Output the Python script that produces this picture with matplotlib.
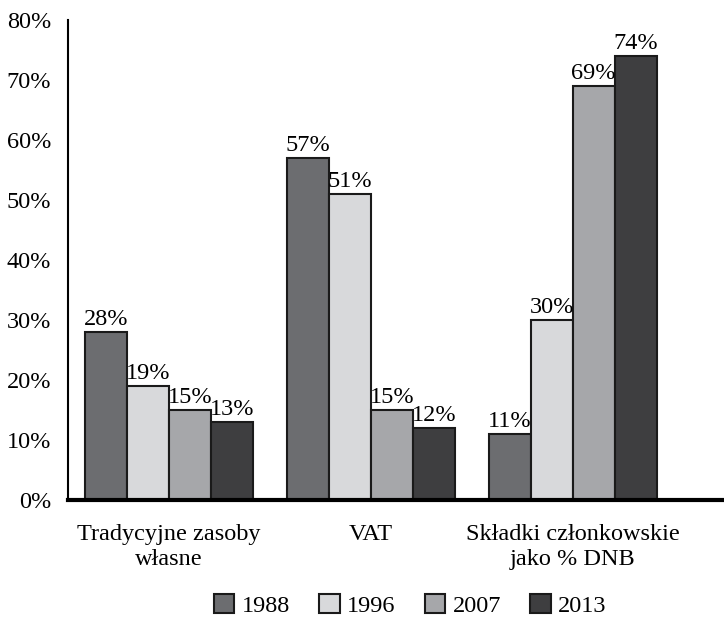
import matplotlib.pyplot as plt
import numpy as np

plt.rcParams['font.family'] = ['Liberation Serif', 'DejaVu Serif']

categories = ["Tradycyjne zasoby\nwłasne", "VAT", "Składki członkowskie\njako % DNB"]
years = ["1988", "1996", "2007", "2013"]
values = {
    "1988": [28, 57, 11],
    "1996": [19, 51, 30],
    "2007": [15, 15, 69],
    "2013": [13, 12, 74],
}
colors = ["#6c6d70", "#d8d9db", "#a6a7aa", "#3e3e40"]

fig = plt.figure(figsize=(7.24, 6.18), dpi=100)
ax = fig.add_axes([68/724, 1-500/618, 654/724, 480/618])

x = np.arange(len(categories))
w = 0.208
for i, yr in enumerate(years):
	pos = x + (i - 1.5) * w
	bars = ax.bar(pos, values[yr], w, color=colors[i], edgecolor="#1a1a1a", linewidth=1.5, label=yr)
	for b, v in zip(bars, values[yr]):
		ax.text(b.get_x() + b.get_width()/2, v + 0.4, str(v) + "%", ha="center", va="bottom", fontsize=17.5)

ax.set_xlim(-0.5, 2.74)
ax.set_ylim(0, 80)
ax.set_yticks(range(0, 81, 10))
ax.set_yticklabels([str(t) + "%" for t in range(0, 81, 10)], fontsize=17.5)
ax.set_xticks(x)
ax.set_xticklabels(categories, fontsize=17.5, linespacing=1.3)
ax.tick_params(axis="y", length=0, pad=12)
ax.tick_params(axis="x", length=0, pad=17)
for s in ["top", "right"]:
	ax.spines[s].set_visible(False)
ax.spines["left"].set_linewidth(1.5)
ax.spines["bottom"].set_linewidth(3)

ax.legend(loc="center", bbox_to_anchor=(0.523, -0.219), ncol=4, frameon=False, fontsize=17.5,
	handlelength=0.85, handleheight=0.85, columnspacing=1.2, handletextpad=0.3)

fig.savefig("out.png", dpi=100)
plt.close()
